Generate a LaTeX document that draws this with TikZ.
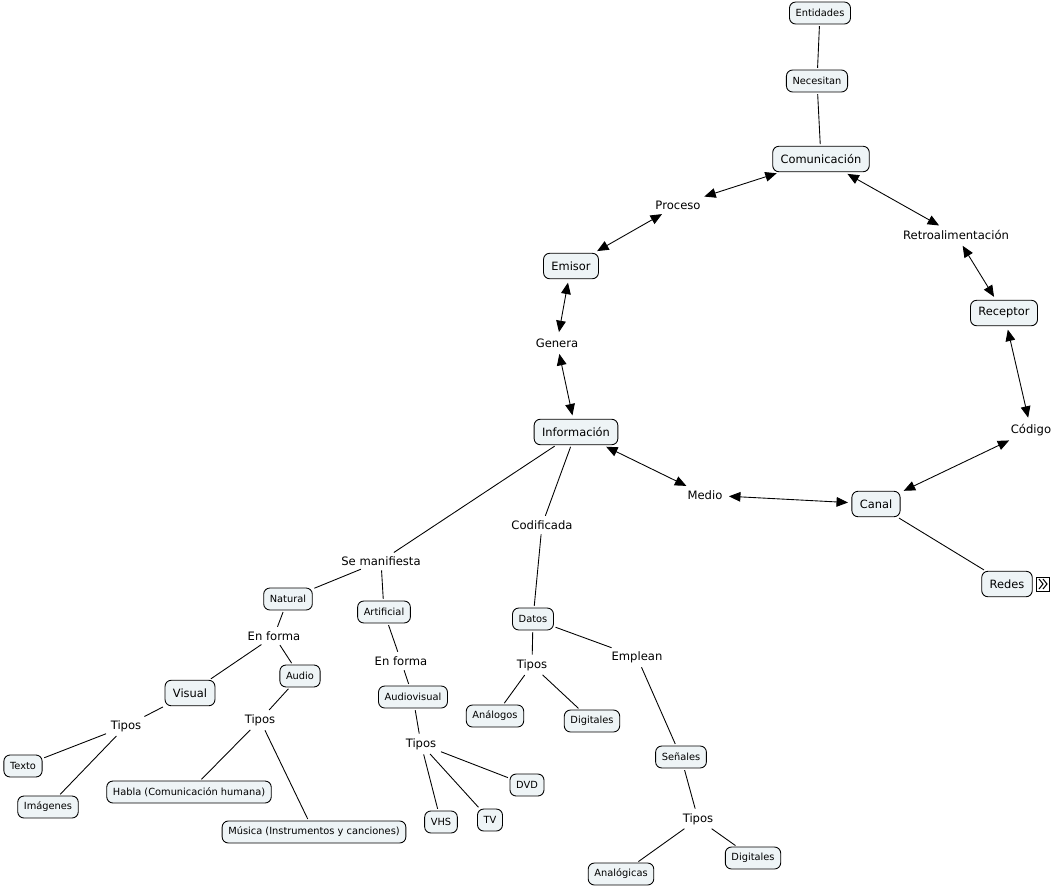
\documentclass[tikz,border=0pt]{standalone}
\usepackage{fontspec}
\setmainfont{DejaVu Sans}
\usetikzlibrary{arrows.meta}
\definecolor{conceptfill}{HTML}{EEF4F6}
\tikzstyle{concept} = [draw, rounded corners=3.5pt, fill=conceptfill, line width=0.5pt, inner xsep=3.5pt, inner ysep=2pt, minimum height=12.5pt, font=\fontsize{5.6}{6.5}\selectfont]
\tikzstyle{bigconcept} = [concept, inner xsep=4.5pt, minimum height=14.5pt, font=\fontsize{6.5}{7.5}\selectfont]
\tikzstyle{link} = [inner sep=1.5pt, font=\fontsize{6.6}{7.5}\selectfont]
\tikzstyle{both} = [{Triangle[length=6.5pt,width=5.5pt]}-{Triangle[length=6.5pt,width=5.5pt]}, shorten <=2pt, shorten >=2pt]
\tikzstyle{plain} = [shorten <=1pt, shorten >=1pt]

\begin{document}
\begin{tikzpicture}[x=0.02cm, y=-0.02cm, line width=0.5pt]
\useasboundingbox (0,0) rectangle (1056,890);

    % concepts
    \node[concept] (entidades) at (820,13) {Entidades};
    \node[concept] (necesitan) at (817,81) {Necesitan};
    \node[bigconcept] (comunicacion) at (821,159) {Comunicación};
    \node[bigconcept] (emisor) at (571,266) {Emisor};
    \node[bigconcept] (receptor) at (1004,313) {Receptor};
    \node[bigconcept] (informacion) at (576,432) {Información};
    \node[bigconcept] (canal) at (876,504) {Canal};
    \node[bigconcept] (redes) at (1007,584) {Redes};
    \node[concept] (natural) at (288,599) {Natural};
    \node[concept] (artificial) at (384,612) {Artificial};
    \node[concept] (datos) at (533,619) {Datos};
    \node[concept] (audio) at (300,676) {Audio};
    \node[bigconcept] (visual) at (190,693) {Visual};
    \node[concept] (audiovisual) at (413,697) {Audiovisual};
    \node[concept] (analogos) at (495,716) {Análogos};
    \node[concept] (digitalesa) at (592,721) {Digitales};
    \node[concept] (senales) at (681,757) {Señales};
    \node[concept] (texto) at (23,766) {Texto};
    \node[concept] (imagenes) at (48,807) {Imágenes};
    \node[concept] (habla) at (189,792) {Habla (Comunicación humana)};
    \node[concept] (dvd) at (527,785) {DVD};
    \node[concept] (musica) at (314,832) {Música (Instrumentos y canciones)};
    \node[concept] (vhs) at (441,822) {VHS};
    \node[concept] (tv) at (490,820) {TV};
    \node[concept] (digitalesb) at (753,858) {Digitales};
    \node[concept] (analogicas) at (621,874) {Analógicas};

    % redes icon
    \node[draw, fill=white, minimum width=7pt, minimum height=8pt, inner sep=0pt] (icono) at (1043,584) {};
    \draw[line width=0.6pt] (1039,579) -- (1043,584) -- (1039,589);
    \draw[line width=0.6pt] (1043,579) -- (1047,584) -- (1043,589);

    % linking phrases
    \node[link] (proceso) at (678,205) {Proceso};
    \node[link] (retro) at (956,235) {Retroalimentación};
    \node[link] (genera) at (557,343) {Genera};
    \node[link] (codigo) at (1031,430) {Código};
    \node[link] (medio) at (705,495) {Medio};
    \node[link] (codificada) at (542,525) {Codificada};
    \node[link] (manifiesta) at (381,561) {Se manifiesta};
    \node[link] (enformaa) at (274,636) {En forma};
    \node[link] (enformab) at (401,661) {En forma};
    \node[link] (tiposd) at (532,665) {Tipos};
    \node[link] (emplean) at (637,657) {Emplean};
    \node[link] (tiposv) at (126,726) {Tipos};
    \node[link] (tiposa) at (260,720) {Tipos};
    \node[link] (tiposav) at (421,744) {Tipos};
    \node[link] (tiposs) at (698,819) {Tipos};

    % arrows
    \draw[both] (comunicacion) -- (proceso);
    \draw[both] (proceso) -- (emisor);
    \draw[both] (comunicacion) -- (retro);
    \draw[both] (retro) -- (receptor);
    \draw[both] (emisor) -- (genera);
    \draw[both] (genera) -- (informacion);
    \draw[both] (receptor) -- (codigo);
    \draw[both] (codigo) -- (canal);
    \draw[both] (informacion) -- (medio);
    \draw[both] (medio) -- (canal);

    % lines
    \draw[plain] (entidades) -- (necesitan);
    \draw[plain] (necesitan) -- (comunicacion);
    \draw[plain] (canal) -- (redes);
    \draw[plain] (informacion) -- (codificada);
    \draw[plain] (codificada) -- (datos);
    \draw[plain] (informacion) -- (manifiesta);
    \draw[plain] (manifiesta) -- (natural);
    \draw[plain] (manifiesta) -- (artificial);
    \draw[plain] (natural) -- (enformaa);
    \draw[plain] (enformaa) -- (visual);
    \draw[plain] (enformaa) -- (audio);
    \draw[plain] (artificial) -- (enformab);
    \draw[plain] (enformab) -- (audiovisual);
    \draw[plain] (visual) -- (tiposv);
    \draw[plain] (tiposv) -- (texto);
    \draw[plain] (tiposv) -- (imagenes);
    \draw[plain] (audio) -- (tiposa);
    \draw[plain] (tiposa) -- (habla);
    \draw[plain] (tiposa) -- (musica);
    \draw[plain] (audiovisual) -- (tiposav);
    \draw[plain] (tiposav) -- (vhs);
    \draw[plain] (tiposav) -- (tv);
    \draw[plain] (tiposav) -- (dvd);
    \draw[plain] (datos) -- (tiposd);
    \draw[plain] (tiposd) -- (analogos);
    \draw[plain] (tiposd) -- (digitalesa);
    \draw[plain] (datos) -- (emplean);
    \draw[plain] (emplean) -- (senales);
    \draw[plain] (senales) -- (tiposs);
    \draw[plain] (tiposs) -- (analogicas);
    \draw[plain] (tiposs) -- (digitalesb);
\end{tikzpicture}
\end{document}
